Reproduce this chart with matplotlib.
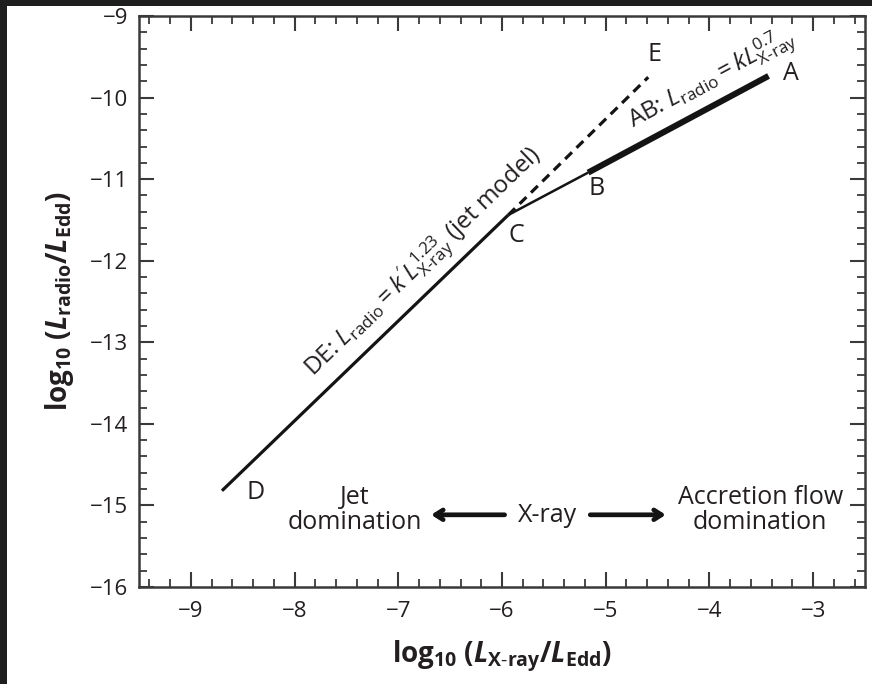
import matplotlib
matplotlib.use("Agg")
import matplotlib.pyplot as plt
from matplotlib.patches import Rectangle
from matplotlib.ticker import MultipleLocator

plt.rcParams['font.family'] = ['Open Sans', 'DejaVu Sans']
plt.rcParams['mathtext.fontset'] = 'custom'
plt.rcParams['mathtext.rm'] = 'Open Sans'
plt.rcParams['mathtext.it'] = 'Open Sans:italic'
plt.rcParams['mathtext.bf'] = 'Open Sans:bold'
plt.rcParams['mathtext.bfit'] = 'Open Sans:italic:bold'

# ---- data (log10 luminosities) ----
dc_x = [-8.70, -5.94]
dc_y = [-14.82, -11.44]
cb_x = [-5.94, -5.17]
cb_y = [-11.44, -10.92]
ba_x = [-5.17, -3.43]
ba_y = [-10.92, -9.735]
ce_x = [-5.94, -4.59]
ce_y = [-11.44, -9.75]

point_labels = ['A', 'B', 'C', 'D', 'E']
label_x = [-3.21, -5.09, -5.86, -8.38, -4.53]
label_y = [-9.71, -11.12, -11.69, -14.84, -9.47]

xticks = [-9, -8, -7, -6, -5, -4, -3]
yticks = [-16, -15, -14, -13, -12, -11, -10, -9]

TXT = '#231f20'
LINE = '#141414'

fig = plt.figure(figsize=(8.72, 6.84), dpi=100)
fig.patch.set_facecolor('#1e1e1e')
fig.patches.append(Rectangle((7 / 872, 0), 1, (684 - 6) / 684, transform=fig.transFigure,
                             facecolor='white', edgecolor='none', zorder=-10))

ax = fig.add_axes([139 / 872, (684 - 587) / 684, 726 / 872, 571 / 684])
ax.set_facecolor('white')
ax.set_xlim(-9.5, -2.5)
ax.set_ylim(-16, -9)

ax.plot(dc_x, dc_y, color=LINE, lw=2.3, solid_capstyle='butt')
ax.plot(cb_x, cb_y, color=LINE, lw=1.8, solid_capstyle='butt')
ax.plot(ba_x, ba_y, color=LINE, lw=4.4, solid_capstyle='butt')
ax.plot(ce_x, ce_y, color=LINE, lw=2.3, ls=(0, (3.0, 2.0)), dash_capstyle='butt')

for lab, x, y in zip(point_labels, label_x, label_y):
    ax.text(x, y, lab, fontsize=18, color=TXT, ha='center', va='center')

ax.text(-3.97, -9.78, r'AB: $L_{\mathrm{radio}}=kL^{0.7}_{\text{X-ray}}$', fontsize=17.5,
        color=TXT, rotation=28.3, ha='center', va='center', rotation_mode='anchor')
ax.text(-6.75, -12.02, r"DE: $L_{\mathrm{radio}}=k'L^{1.23}_{\text{X-ray}}$ (jet model)", fontsize=17.5,
        color=TXT, rotation=44, ha='center', va='center', rotation_mode='anchor')

ax.text(-7.415, -15.05, 'Jet\ndomination', fontsize=18, color=TXT, ha='center', va='center',
        linespacing=1.0)
ax.text(-3.51, -15.05, 'Accretion flow\ndomination', fontsize=18, color=TXT, ha='center',
        va='center', linespacing=1.0)
ax.text(-5.56, -15.12, 'X-ray', fontsize=18, color=TXT, ha='center', va='center')
ax.annotate('', xy=(-6.71, -15.115), xytext=(-5.948, -15.115),
            arrowprops=dict(arrowstyle='->, head_length=0.55, head_width=0.35', lw=3.4, color=LINE))
ax.annotate('', xy=(-4.394, -15.115), xytext=(-5.176, -15.115),
            arrowprops=dict(arrowstyle='->, head_length=0.55, head_width=0.35', lw=3.4, color=LINE))

ax.set_xticks(xticks)
ax.set_yticks(yticks)
ax.xaxis.set_minor_locator(MultipleLocator(0.2))
ax.yaxis.set_minor_locator(MultipleLocator(0.2))
ax.tick_params(which='both', direction='in', top=True, right=True, color='#3a3a3a')
ax.tick_params(which='major', length=11, width=1.5, labelsize=16, labelcolor=TXT, pad=8)
ax.tick_params(axis='x', which='major', pad=10)
ax.tick_params(which='minor', length=6, width=1.3)
for s in ax.spines.values():
    s.set_linewidth(1.8)
    s.set_color('#3a3a3a')

ax.set_xlabel(r'$\mathbf{log_{10}}$ $\mathbf{(}\mathbfit{L}_{\mathbf{X\text{-}ray}}\mathbf{/}\mathbfit{L}_{\mathbf{Edd}}\mathbf{)}$',
              fontsize=20, color=TXT, labelpad=12)
ax.set_ylabel(r'$\mathbf{log_{10}}$ $\mathbf{(}\mathbfit{L}_{\mathbf{radio}}\mathbf{/}\mathbfit{L}_{\mathbf{Edd}}\mathbf{)}$',
              fontsize=20, color=TXT, labelpad=10)

fig.savefig('out.png', dpi=100, facecolor=fig.get_facecolor())
